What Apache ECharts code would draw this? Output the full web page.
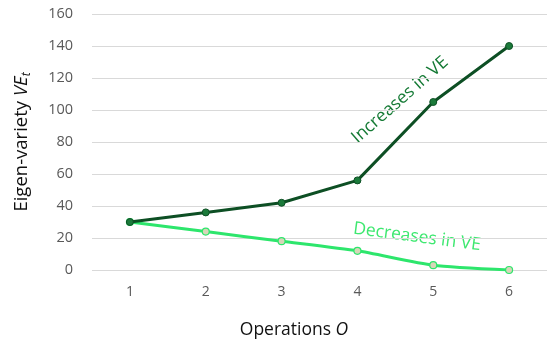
<!DOCTYPE html>
<html><head><meta charset="utf-8">
<script src="https://cdn.jsdelivr.net/npm/echarts@6/dist/echarts.min.js"></script>
<style>html,body{margin:0;padding:0;background:#fff}#c{width:547px;height:347px}</style>
</head><body><div id="c"></div>
<script>
const categories = ['1','2','3','4','5','6'];
const increases = [30, 36, 42, 56, 105, 140];
const decreases = [30, 24, 18, 12, 3, 0];
const yTicks = {min: 0, max: 160, interval: 20};

const chart = echarts.init(document.getElementById('c'));
const F = '"Open Sans", "Noto Sans", sans-serif';
chart.setOption({
  animation: false,
  grid: {left: 92, top: 14, width: 459, height: 256},
  xAxis: {
    type: 'category', data: categories, boundaryGap: true,
    axisLine: {show: false}, axisTick: {show: false},
    axisLabel: {color: '#595959', fontSize: 14, fontFamily: F, margin: 15}
  },
  yAxis: {
    type: 'value', min: yTicks.min, max: yTicks.max, interval: yTicks.interval,
    axisLine: {show: false}, axisTick: {show: false},
    splitLine: {lineStyle: {color: '#d9d9d9', width: 1}},
    axisLabel: {color: '#595959', fontSize: 14.5, fontFamily: F, margin: 19}
  },
  series: [
    {type: 'line', data: increases, symbol: 'circle', symbolSize: 7,
     lineStyle: {color: '#0d4f24', width: 3},
     itemStyle: {color: '#1b7a3a', borderColor: '#0d4f24', borderWidth: 1}, z: 3},
    {type: 'line', data: decreases, symbol: 'circle', symbolSize: 7, smooth: 0.2,
     lineStyle: {color: '#2de66c', width: 3},
     itemStyle: {color: '#d6d6b8', borderColor: '#2de66c', borderWidth: 1.2}, z: 2}
  ],
  graphic: [
    {type: 'text', x: 22, y: 142, rotation: Math.PI/2,
     style: {text: '{n|Eigen-variety }{i|VE}{s|t}', align: 'center', verticalAlign: 'middle',
       rich: {n: {fontSize: 18.5, fontFamily: F, fill: '#111'},
              i: {fontSize: 18.5, fontFamily: F, fontStyle: 'italic', fill: '#111'},
              s: {fontSize: 12, fontFamily: F, fontStyle: 'italic', fill: '#111', verticalAlign: 'bottom', padding: [9,0,0,0]}}}},
    {type: 'text', x: 294, y: 330,
     style: {text: '{n|Operations }{i|O}', align: 'center', verticalAlign: 'middle',
       rich: {n: {fontSize: 17.5, fontFamily: F, fill: '#111'},
              i: {fontSize: 17.5, fontFamily: F, fontStyle: 'italic', fill: '#111'}}}},
    {type: 'text', x: 400, y: 100, rotation: 0.72,
     style: {text: 'Increases in VE', align: 'center', verticalAlign: 'middle', fontSize: 17.5, fontFamily: F, fill: '#157a35'}},
    {type: 'text', x: 417, y: 237, rotation: -0.13,
     style: {text: 'Decreases in VE', align: 'center', verticalAlign: 'middle', fontSize: 17.5, fontFamily: F, fill: '#3ee870'}}
  ]
});
</script></body></html>
